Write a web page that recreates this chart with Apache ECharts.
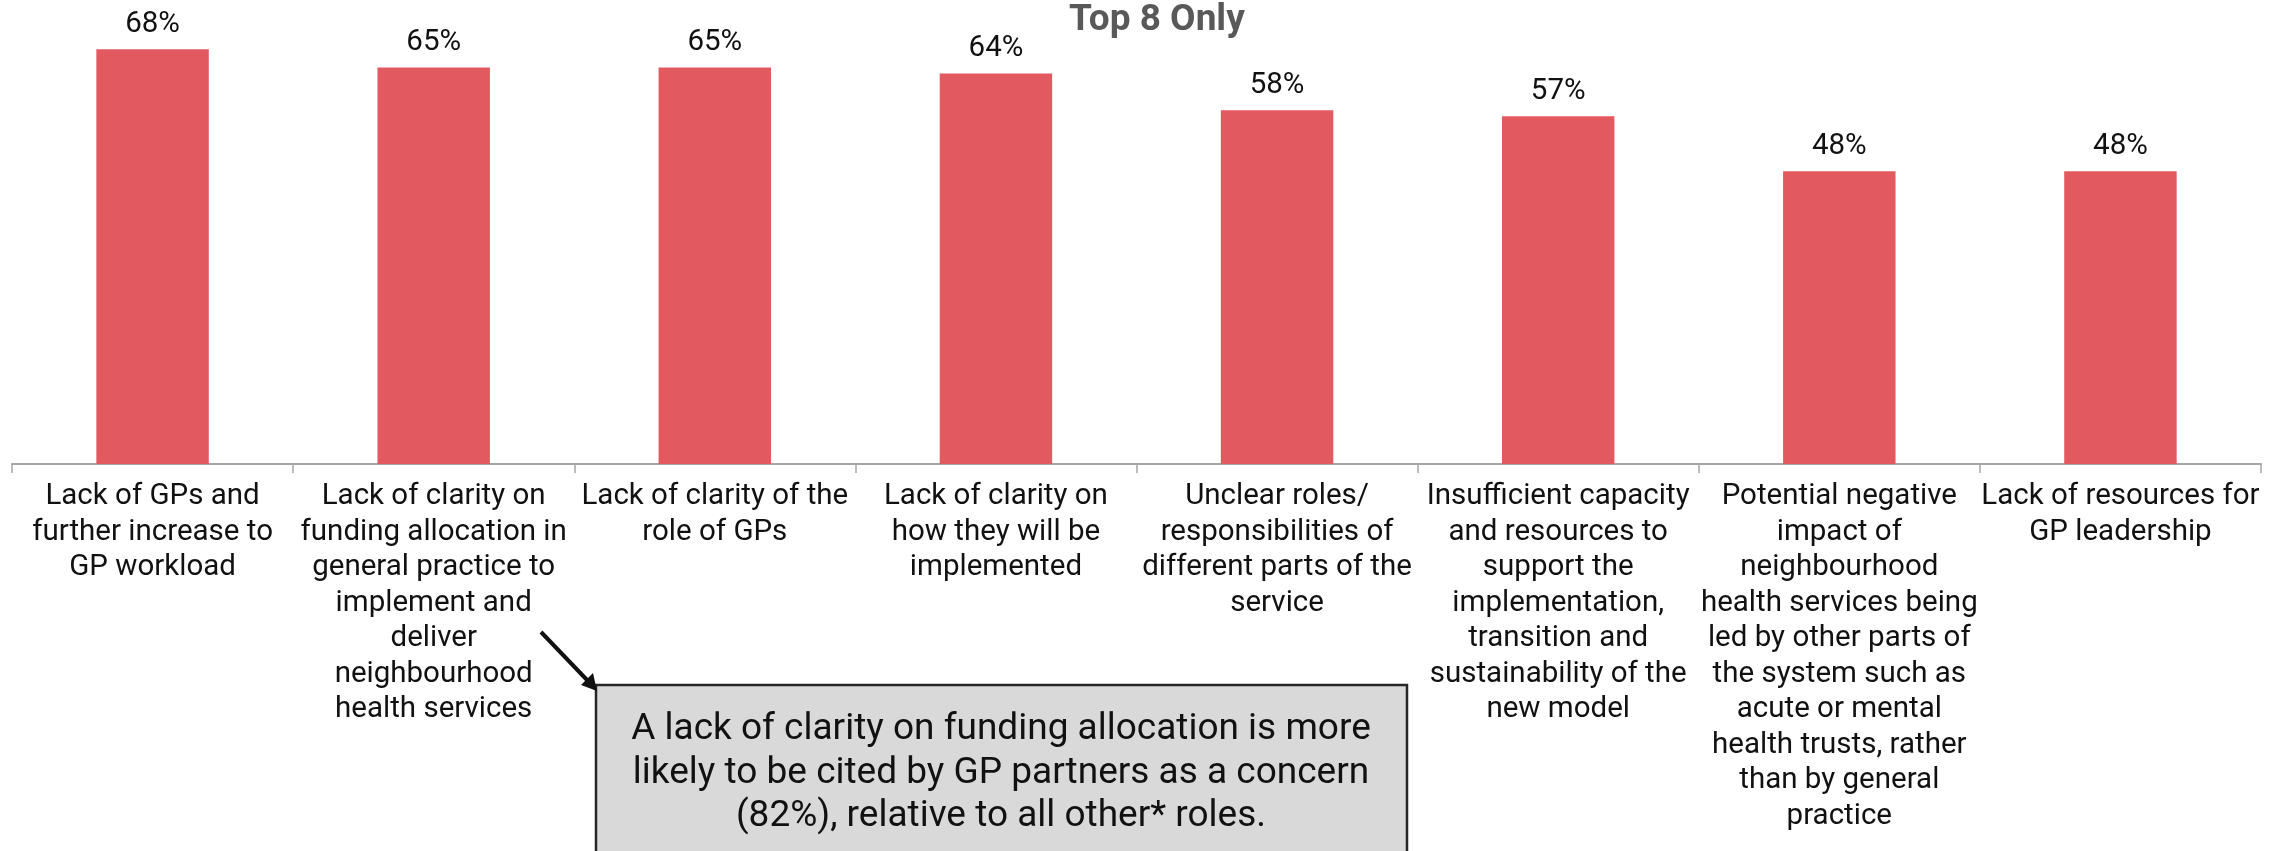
<!DOCTYPE html>
<html>
<head>
<meta charset="utf-8">
<script src="https://cdn.jsdelivr.net/npm/echarts@6/dist/echarts.min.js"></script>
<style>
  html, body { margin: 0; padding: 0; background: #fff; }
  #chart { width: 2285px; height: 851px; }
</style>
</head>
<body>
<div id="chart"></div>
<script>
// concerns, top 8 only
const categories = [
  "Lack of GPs and\nfurther increase to\nGP workload",
  "Lack of clarity on\nfunding allocation in\ngeneral practice to\nimplement and\ndeliver\nneighbourhood\nhealth services",
  "Lack of clarity of the\nrole of GPs",
  "Lack of clarity on\nhow they will be\nimplemented",
  "Unclear roles/\nresponsibilities of\ndifferent parts of the\nservice",
  "Insufficient capacity\nand resources to\nsupport the\nimplementation,\ntransition and\nsustainability of the\nnew model",
  "Potential negative\nimpact of\nneighbourhood\nhealth services being\nled by other parts of\nthe system such as\nacute or mental\nhealth trusts, rather\nthan by general\npractice",
  "Lack of resources for\nGP leadership"
];
const values = [68, 65, 65, 64, 58, 57, 48, 48];

const titleText = "Top 8 Only";
const noteText = "A lack of clarity on funding allocation is more\nlikely to be cited by GP partners as a concern\n(82%), relative to all other* roles.";

const myChart = echarts.init(document.getElementById("chart"));

const option = {
  animation: false,
  textStyle: { fontFamily: "Roboto" },
  title: {
    text: titleText,
    left: 1069,
    top: 2,
    padding: 0,
    textStyle: { fontSize: 37, fontWeight: "bold", color: "#595959", fontFamily: "Roboto" }
  },
  grid: {
    left: 12,
    right: 24,
    top: 37,
    bottom: 387,
    containLabel: false,
    outerBoundsMode: "none"
  },
  xAxis: {
    type: "category",
    data: categories,
    axisLine: { lineStyle: { color: "#a6a6a6", width: 2 } },
    axisTick: { show: true, length: 9, lineStyle: { color: "#a6a6a6", width: 1.5 } },
    axisLabel: {
      interval: 0,
      margin: 15,
      fontSize: 29.5,
      lineHeight: 35.5,
      color: "#111",
      fontFamily: "Roboto",
      align: "center"
    }
  },
  yAxis: {
    type: "value",
    min: 0,
    max: 70,
    show: false,
    splitLine: { show: false }
  },
  series: [
    {
      type: "bar",
      data: values,
      barWidth: "40%",
      itemStyle: { color: "#e2595f" },
      label: {
        show: true,
        position: "top",
        distance: 10,
        formatter: "{c}%",
        fontSize: 29.5,
        color: "#111",
        fontFamily: "Roboto"
      }
    }
  ],
  graphic: [
    {
      type: "rect",
      shape: { x: 596, y: 685, width: 811, height: 200 },
      style: { fill: "#d9d9d9", stroke: "#262626", lineWidth: 2.5 },
      z: 10
    },
    {
      type: "text",
      z: 11,
      style: {
        x: 1001,
        y: 708,
        text: noteText,
        fontSize: 37,
        fontFamily: "Roboto",
        lineHeight: 43.5,
        fill: "#111",
        align: "center",
        verticalAlign: "top"
      }
    },
    {
      type: "line",
      z: 11,
      shape: { x1: 541, y1: 632, x2: 588, y2: 681 },
      style: { stroke: "#111", lineWidth: 4 }
    },
    {
      type: "polygon",
      z: 11,
      shape: { points: [[597, 691], [581, 685], [593, 673]] },
      style: { fill: "#111" }
    }
  ]
};

myChart.setOption(option);
</script>
</body>
</html>
